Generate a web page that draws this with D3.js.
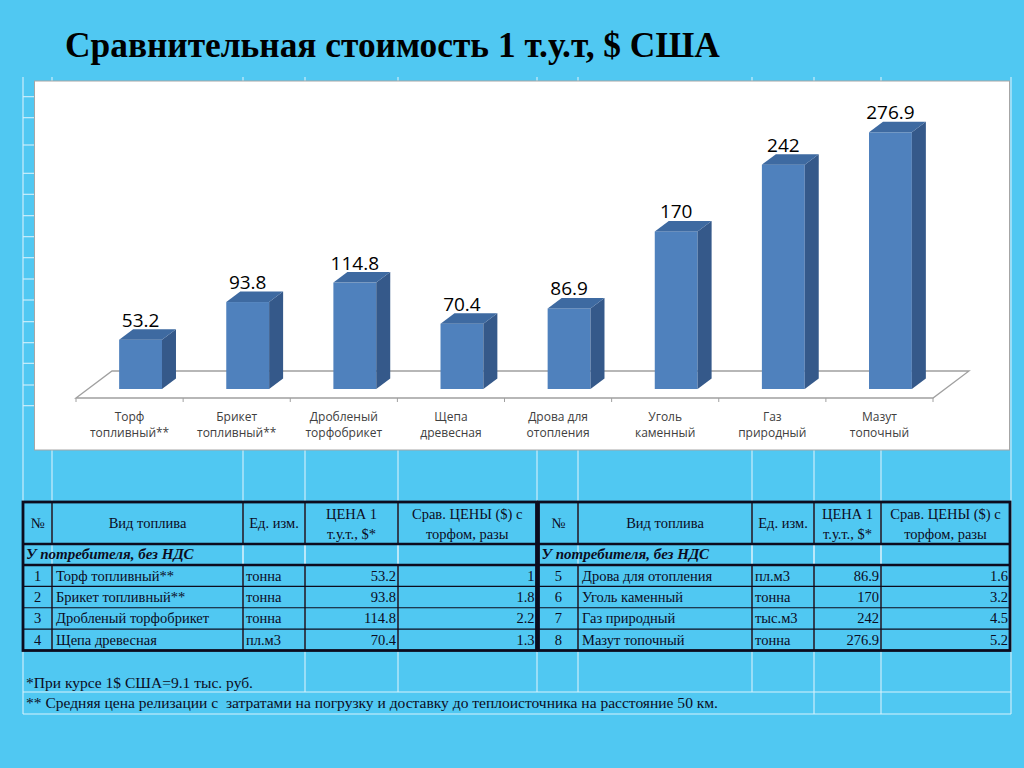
<!DOCTYPE html>
<html>
<head>
<meta charset="utf-8">
<script src="https://cdn.jsdelivr.net/npm/d3@7"></script>
<style>
  html, body { margin: 0; padding: 0; background: #50c8f2; }
  svg { display: block; }
</style>
</head>
<body>
<svg width="1024" height="768"></svg>
<script>
// chart categories, two lines each
var categories = [
  ['Торф', 'топливный**'], ['Брикет', 'топливный**'], ['Дробленый', 'торфобрикет'], ['Щепа', 'древесная'],
  ['Дрова для', 'отопления'], ['Уголь', 'каменный'], ['Газ', 'природный'], ['Мазут', 'топочный']
]
// price of 1 t.u.t., $
var values = [53.2, 93.8, 114.8, 70.4, 86.9, 170, 242, 276.9]

// table columns
var fuelNames = ['Торф топливный**', 'Брикет топливный**', 'Дробленый торфобрикет', 'Щепа древесная',
  'Дрова для отопления', 'Уголь каменный', 'Газ природный', 'Мазут топочный']
var units = ['тонна', 'тонна', 'тонна', 'пл.м3', 'пл.м3', 'тонна', 'тыс.м3', 'тонна']
var ratios = ['1', '1.8', '2.2', '1.3', '1.6', '3.2', '4.5', '5.2']

var title = 'Сравнительная стоимость 1 т.у.т, $ США'
var headers = [['№'], ['Вид топлива'], ['Ед. изм.'], ['ЦЕНА 1', 'т.у.т., $*'], ['Срав. ЦЕНЫ ($) с', 'торфом, разы']]
var subHeader = 'У потребителя, без НДС'
var notes = ['*При курсе 1$ США=9.1 тыс. руб.',
  '** Средняя цена релизации с  затратами на погрузку и доставку до теплоисточника на расстояние 50 км.']

var svg = d3.select('svg')
var ink = '#0c0c1e'
var gridColor = '#d6f1fc'

// ---- spreadsheet grid that shows behind everything ----
var gridCols = [[23, 714], [52, 650], [243, 650], [305, 692], [398, 692], [537, 692], [578, 692],
  [752, 692], [814, 714], [881, 714], [1011, 714]]
var gridRowsLeft = [96.7, 117.7, 145, 173.3, 194.3, 215.7, 236.7, 257.7, 279, 300, 321.7, 342.7, 363.3, 385, 405.7]

var bg = svg.append('g').attr('stroke', gridColor).attr('stroke-width', 1.1)
bg.selectAll('line.v').data(gridCols).enter().append('line')
  .attr('x1', function (d) { return d[0] }).attr('x2', function (d) { return d[0] })
  .attr('y1', 77).attr('y2', function (d) { return d[1] })
bg.selectAll('line.h').data(gridRowsLeft).enter().append('line')
  .attr('x1', 23).attr('x2', 35).attr('y1', function (d) { return d }).attr('y2', function (d) { return d })
bg.selectAll('line.f').data([692, 714]).enter().append('line')
  .attr('x1', 23).attr('x2', 1011).attr('y1', function (d) { return d }).attr('y2', function (d) { return d })

// ---- title ----
var t = svg.append('text')
  .attr('x', 65).attr('y', 57)
  .style('font-family', '"Liberation Serif", "Times New Roman", serif')
  .style('font-weight', 'bold')
  .style('font-size', '38px')
  .attr('fill', '#000')
  .text(title)
var tw = t.node().getComputedTextLength()
t.style('font-size', (38 * 655 / tw) + 'px')

// ---- chart ----
svg.append('rect')
  .attr('x', 34.5).attr('y', 81).attr('width', 975).attr('height', 369)
  .attr('fill', '#fff').attr('stroke', '#a6a6a6')

var x = d3.scaleBand().domain(d3.range(values.length)).range([76, 933])
var y = d3.scaleLinear().domain([0, 300]).range([389, 110.9])

var floorY = 398
var floorDx = 36
var floorDy = -27
var shiftX = 11 // bar front face sits a bit inside the floor
var depthX = 14
var depthY = -10.5
var barW = x.bandwidth() * 0.4

var chart = svg.append('g')

// floor outline
chart.append('path')
  .attr('d', 'M76,' + floorY + 'L' + (76 + floorDx) + ',' + (floorY + floorDy) +
    'L' + (933 + floorDx) + ',' + (floorY + floorDy) + 'L933,' + floorY + 'Z')
  .attr('fill', 'none').attr('stroke', '#a0a0a0').attr('stroke-width', 1.3)

// category ticks
chart.selectAll('line.tick').data(d3.range(values.length + 1)).enter().append('line')
  .attr('x1', function (d) { return 76 + d * x.step() })
  .attr('x2', function (d) { return 76 + d * x.step() })
  .attr('y1', floorY).attr('y2', floorY + 4)
  .attr('stroke', '#a0a0a0')

var bars = chart.selectAll('g.bar').data(values).enter().append('g')

function xl (d, i) { return x(i) + (x.bandwidth() - barW) / 2 + shiftX }

bars.append('rect')
  .attr('x', xl)
  .attr('y', function (d) { return y(d) })
  .attr('width', barW)
  .attr('height', function (d) { return y(0) - y(d) })
  .attr('fill', '#4f81bd')

bars.append('path')
  .attr('d', function (d, i) {
    var r = xl(d, i) + barW
    return 'M' + r + ',' + y(0) + 'L' + (r + depthX) + ',' + (y(0) + depthY) +
      'L' + (r + depthX) + ',' + (y(d) + depthY) + 'L' + r + ',' + y(d) + 'Z'
  })
  .attr('fill', '#35598a')

bars.append('path')
  .attr('d', function (d, i) {
    var l = xl(d, i)
    var r = l + barW
    return 'M' + l + ',' + y(d) + 'L' + (l + depthX) + ',' + (y(d) + depthY) +
      'L' + (r + depthX) + ',' + (y(d) + depthY) + 'L' + r + ',' + y(d) + 'Z'
  })
  .attr('fill', '#3e6aa1')

bars.append('text')
  .attr('x', function (d, i) { return xl(d, i) + barW / 2 })
  .attr('y', function (d) { return y(d) + depthY - 2.5 })
  .attr('text-anchor', 'middle')
  .style('font-family', '"Open Sans", "Noto Sans", sans-serif')
  .style('font-size', '19px')
  .attr('fill', '#000')
  .text(function (d) { return d })

var labels = chart.selectAll('text.cat').data(categories).enter().append('text')
  .attr('text-anchor', 'middle')
  .style('font-family', '"Open Sans", "Noto Sans", sans-serif')
  .style('font-size', '12px')
  .attr('fill', '#404040')
labels.selectAll('tspan').data(function (d, i) { return d.map(function (s) { return { s: s, i: i } }) })
  .enter().append('tspan')
  .attr('x', function (d) { return x(d.i) + x.bandwidth() / 2 })
  .attr('y', function (d, j) { return 421 + j * 16 })
  .text(function (d) { return d.s })

// ---- table ----
var serif = '"Liberation Serif", "Times New Roman", serif'
var rowY = d3.scaleBand().domain(d3.range(4)).range([565, 650.5])
var tables = [
  { cols: [23, 52, 243, 305, 398, 536.5], rows: d3.range(0, 4) },
  { cols: [538.5, 578, 752, 814, 881, 1010], rows: d3.range(4, 8) }
]

tables.forEach(function (tb) {
  var g = svg.append('g')
  var c = tb.cols
  var left = c[0]
  var right = c[c.length - 1]

  // light grid inside the merged sub-header row
  c.slice(2, 5).forEach(function (cx) {
    g.append('line').attr('x1', cx).attr('x2', cx).attr('y1', 544).attr('y2', 565)
      .attr('stroke', gridColor).attr('stroke-width', 1.1)
  })

  // thin row lines
  d3.range(1, 4).forEach(function (k) {
    g.append('line').attr('x1', left).attr('x2', right)
      .attr('y1', rowY(k)).attr('y2', rowY(k))
      .attr('stroke', ink).attr('stroke-width', 1.2)
  })
  // column lines in header and in data rows
  c.slice(1, c.length - 1).forEach(function (cx) {
    g.append('line').attr('x1', cx).attr('x2', cx).attr('y1', 502).attr('y2', 544)
      .attr('stroke', ink).attr('stroke-width', 1.5)
    g.append('line').attr('x1', cx).attr('x2', cx).attr('y1', 565).attr('y2', 650.5)
      .attr('stroke', ink).attr('stroke-width', 1.5)
  })
  // thick lines
  ;[544, 565].forEach(function (yy) {
    g.append('line').attr('x1', left).attr('x2', right).attr('y1', yy).attr('y2', yy)
      .attr('stroke', ink).attr('stroke-width', 2.6)
  })
  g.append('rect').attr('x', left).attr('y', 502).attr('width', right - left).attr('height', 148.5)
    .attr('fill', 'none').attr('stroke', ink).attr('stroke-width', 2.8)

  // header texts
  headers.forEach(function (h, k) {
    var cx = (c[k] + c[k + 1]) / 2
    h.forEach(function (line, j) {
      g.append('text')
        .attr('x', cx)
        .attr('y', h.length === 1 ? 528 : 519 + j * 20)
        .attr('text-anchor', 'middle')
        .style('font-family', serif).style('font-size', '14.5px')
        .attr('fill', ink)
        .text(line)
    })
  })

  g.append('text')
    .attr('x', left + 3).attr('y', 559)
    .style('font-family', serif).style('font-size', '15px')
    .style('font-weight', 'bold').style('font-style', 'italic')
    .attr('fill', ink)
    .text(subHeader)

  tb.rows.forEach(function (idx, k) {
    var by = rowY(k) + rowY.bandwidth() / 2 + 5
    var cells = [
      { x: (c[0] + c[1]) / 2, a: 'middle', t: String(idx + 1) },
      { x: c[1] + 4, a: 'start', t: fuelNames[idx] },
      { x: c[2] + 3, a: 'start', t: units[idx] },
      { x: c[4] - 2, a: 'end', t: String(values[idx]) },
      { x: c[5] - 2, a: 'end', t: ratios[idx] }
    ]
    cells.forEach(function (cl) {
      g.append('text')
        .attr('x', cl.x).attr('y', by)
        .attr('text-anchor', cl.a)
        .style('font-family', serif).style('font-size', '14.5px')
        .attr('fill', ink)
        .text(cl.t)
    })
  })
})

// ---- footnotes ----
svg.selectAll('text.note').data(notes).enter().append('text')
  .attr('x', 26)
  .attr('y', function (d, i) { return 688 + i * 20 })
  .style('font-family', serif).style('font-size', '14.5px')
  .style('white-space', 'pre')
  .attr('fill', ink)
  .attr('textLength', function (d, i) { return i === 0 ? 227 : 692 })
  .attr('lengthAdjust', 'spacingAndGlyphs')
  .text(function (d) { return d })
</script>
</body>
</html>
